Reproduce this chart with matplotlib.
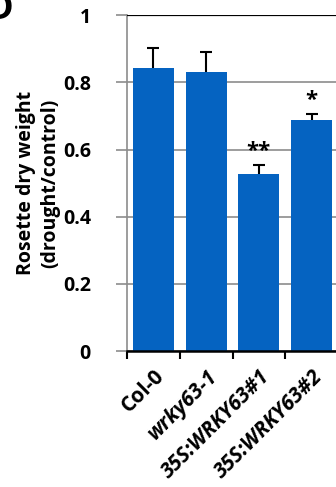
import numpy as np
import matplotlib.pyplot as plt
import matplotlib.transforms as mtransforms

# data
genotypes = ['Col-0', 'wrky63-1', '35S:WRKY63#1', '35S:WRKY63#2']
ratio = [0.842, 0.830, 0.527, 0.687]
sd = [0.061, 0.059, 0.027, 0.020]
signif = ['', '', '**', '*']
yticks = [0, 0.2, 0.4, 0.6, 0.8, 1]

plt.rcParams['font.family'] = ['Open Sans', 'DejaVu Sans']
plt.rcParams['font.weight'] = 'bold'

fig = plt.figure(figsize=(3.36, 4.87), dpi=100)
ax = fig.add_axes([0.378, 0.279, 0.628, 0.690])

x = np.arange(len(genotypes))
ratio_arr = np.array(ratio)
top = ratio_arr + np.array(sd)
blue = '#0563C1'

ax.bar(x, ratio, width=0.78, color=blue, zorder=2)
# upper-only error bars
ax.vlines(x, ratio_arr, top, color='black', linewidth=1.5, zorder=3)
ax.hlines(top, x - 0.115, x + 0.115, color='black', linewidth=1.5, zorder=3)

for xi, t, s in zip(x, top, signif):
    if s:
        ax.text(xi, t + 0.008, s, ha='center', va='bottom', fontsize=16,
                fontweight='bold')

ax.set_ylim(0, 1)
ax.set_xlim(-0.5, len(genotypes) - 0.5)
ax.set_yticks(yticks)
ax.set_yticklabels(['0', '0.2', '0.4', '0.6', '0.8', '1'], fontsize=14,
                   fontweight='bold')
ax.yaxis.grid(True, color='#8c8c8c', linewidth=1.2, zorder=0)
ax.set_axisbelow(True)
ax.axhline(1, color='black', linewidth=1.6, zorder=3)

for side in ['top', 'right']:
    ax.spines[side].set_visible(False)
ax.spines['left'].set_color('#8c8c8c')
ax.spines['left'].set_linewidth(1.2)
ax.spines['bottom'].set_color('black')
ax.spines['bottom'].set_linewidth(1.8)
ax.spines['bottom'].set_zorder(4)

ax.tick_params(axis='y', labelcolor='black', length=8, width=1.2,
               color='#8c8c8c', pad=18)
ax.set_xticks(np.arange(-0.5, len(genotypes), 1.0))
ax.set_xticklabels([])
ax.tick_params(axis='x', length=6, width=1.5, color='black')
ax.set_xticks(x, minor=True)
ax.set_xticklabels(genotypes, minor=True, rotation=45, ha='right',
                   va='center', rotation_mode='anchor', fontsize=15,
                   fontweight='bold')
ax.tick_params(axis='x', which='minor', length=0, pad=16)
shift = mtransforms.ScaledTranslation(8 / 100, 0, fig.dpi_scale_trans)
for lbl in ax.get_xticklabels(minor=True):
    lbl.set_transform(lbl.get_transform() + shift)
    if lbl.get_text() != 'Col-0':
        lbl.set_fontstyle('italic')

ax.set_ylabel('Rosette dry weight\n(drought/control)', fontsize=14,
              fontweight='bold', labelpad=2, linespacing=1.25)

fig.text(0.04, 0.962, 'D', ha='right', va='baseline', fontsize=26,
         fontweight='bold')

fig.savefig('out.png', dpi=100)
